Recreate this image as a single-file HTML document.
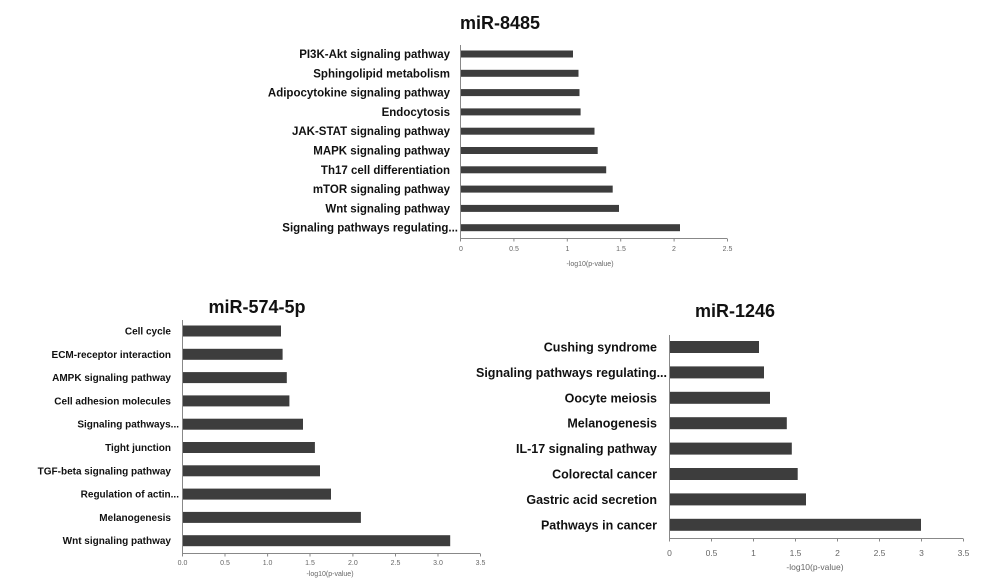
<!DOCTYPE html>
<html><head><meta charset="utf-8"><style>
body{margin:0;background:#fff}
svg{display:block}
.l{font-family:"Liberation Sans",sans-serif;font-weight:bold;fill:#111;text-anchor:end}
.t{font-family:"Liberation Sans",sans-serif;font-size:7px;fill:#666;text-anchor:middle}
.h{font-family:"Liberation Sans",sans-serif;font-weight:bold;fill:#111;text-anchor:middle}
</style></head><body>
<svg width="1000" height="587" viewBox="0 0 1000 587">
<g fill="#3d3d3d">
<!-- chart1 scale 106.8 -->
<rect x="461" y="50.5" width="112" height="7"/>
<rect x="461" y="69.8" width="117.5" height="7"/>
<rect x="461" y="89.1" width="118.5" height="7"/>
<rect x="461" y="108.4" width="119.6" height="7"/>
<rect x="461" y="127.7" width="133.5" height="7"/>
<rect x="461" y="147" width="136.7" height="7"/>
<rect x="461" y="166.3" width="145.2" height="7"/>
<rect x="461" y="185.6" width="151.7" height="7"/>
<rect x="461" y="204.9" width="158" height="7"/>
<rect x="461" y="224.2" width="219" height="7"/>
<!-- chart2 scale 85.1 -->
<rect x="183" y="325.5" width="98" height="11"/>
<rect x="183" y="348.8" width="99.6" height="11"/>
<rect x="183" y="372.1" width="103.8" height="11"/>
<rect x="183" y="395.4" width="106.4" height="11"/>
<rect x="183" y="418.7" width="120" height="11"/>
<rect x="183" y="442" width="131.9" height="11"/>
<rect x="183" y="465.3" width="137" height="11"/>
<rect x="183" y="488.6" width="148" height="11"/>
<rect x="183" y="511.9" width="177.9" height="11"/>
<rect x="183" y="535.2" width="267.2" height="11"/>
<!-- chart3 scale 84 -->
<rect x="670" y="341" width="89" height="12"/>
<rect x="670" y="366.4" width="94" height="12"/>
<rect x="670" y="391.8" width="100" height="12"/>
<rect x="670" y="417.2" width="116.8" height="12"/>
<rect x="670" y="442.6" width="121.8" height="12"/>
<rect x="670" y="468" width="127.7" height="12"/>
<rect x="670" y="493.4" width="136" height="12"/>
<rect x="670" y="518.8" width="251" height="12"/>
</g>
<g stroke="#888" stroke-width="1" fill="none">
<path d="M460.5 45V238.5H727"/>
<path d="M460.5 238.5v3M513.9 238.5v3M567.3 238.5v3M620.7 238.5v3M674.1 238.5v3M727.5 238.5v3"/>
<path d="M182.5 320V553.5H480"/>
<path d="M182.5 553.5v3M225 553.5v3M267.6 553.5v3M310 553.5v3M352.9 553.5v3M395.5 553.5v3M438 553.5v3M480.5 553.5v3"/>
<path d="M669.5 335V538.5H963"/>
<path d="M669.5 538.5v3M711.5 538.5v3M753.5 538.5v3M795.5 538.5v3M837.5 538.5v3M879.5 538.5v3M921.5 538.5v3M963.5 538.5v3"/>
</g>
<text class="h" x="500" y="29" font-size="18">miR-8485</text>
<text class="h" x="257" y="313" font-size="18">miR-574-5p</text>
<text class="h" x="735" y="317" font-size="18">miR-1246</text>
<g class="l" font-size="11.5">
<text x="450" y="58">PI3K-Akt signaling pathway</text>
<text x="450" y="77.3">Sphingolipid metabolism</text>
<text x="450" y="96.6">Adipocytokine signaling pathway</text>
<text x="450" y="115.9">Endocytosis</text>
<text x="450" y="135.2">JAK-STAT signaling pathway</text>
<text x="450" y="154.5">MAPK signaling pathway</text>
<text x="450" y="173.8">Th17 cell differentiation</text>
<text x="450" y="193.1">mTOR signaling pathway</text>
<text x="450" y="212.4">Wnt signaling pathway</text>
<text x="458" y="231.7">Signaling pathways regulating...</text>
</g>
<g class="l" font-size="10">
<text x="171" y="334.5">Cell cycle</text>
<text x="171" y="357.8">ECM-receptor interaction</text>
<text x="171" y="381.1">AMPK signaling pathway</text>
<text x="171" y="404.4">Cell adhesion molecules</text>
<text x="179" y="427.7">Signaling pathways...</text>
<text x="171" y="451">Tight junction</text>
<text x="171" y="474.3">TGF-beta signaling pathway</text>
<text x="179" y="497.6">Regulation of actin...</text>
<text x="171" y="520.9">Melanogenesis</text>
<text x="171" y="544.2">Wnt signaling pathway</text>
</g>
<g class="l" font-size="12.5">
<text x="657" y="351.5">Cushing syndrome</text>
<text x="667" y="376.9">Signaling pathways regulating...</text>
<text x="657" y="402.3">Oocyte meiosis</text>
<text x="657" y="427.7">Melanogenesis</text>
<text x="657" y="453.1">IL-17 signaling pathway</text>
<text x="657" y="478.5">Colorectal cancer</text>
<text x="657" y="503.9">Gastric acid secretion</text>
<text x="657" y="529.3">Pathways in cancer</text>
</g>
<g class="t">
<text x="461" y="251">0</text><text x="514" y="251">0.5</text><text x="567.5" y="251">1</text><text x="621" y="251">1.5</text><text x="674" y="251">2</text><text x="727.5" y="251">2.5</text>
<text x="590" y="266">-log10(p-value)</text>
<text x="182.5" y="565">0.0</text><text x="225" y="565">0.5</text><text x="267.6" y="565">1.0</text><text x="310" y="565">1.5</text><text x="352.9" y="565">2.0</text><text x="395.5" y="565">2.5</text><text x="438" y="565">3.0</text><text x="480.5" y="565">3.5</text>
<text x="330" y="576">-log10(p-value)</text>
</g>
<g class="t" font-size="8.5">
<text x="669.5" y="556" font-size="8.5">0</text><text x="711.5" y="556" font-size="8.5">0.5</text><text x="753.5" y="556" font-size="8.5">1</text><text x="795.5" y="556" font-size="8.5">1.5</text><text x="837.5" y="556" font-size="8.5">2</text><text x="879.5" y="556" font-size="8.5">2.5</text><text x="921.5" y="556" font-size="8.5">3</text><text x="963.5" y="556" font-size="8.5">3.5</text>
<text x="815" y="570" font-size="8.5">-log10(p-value)</text>
</g>
</svg>
</body></html>
